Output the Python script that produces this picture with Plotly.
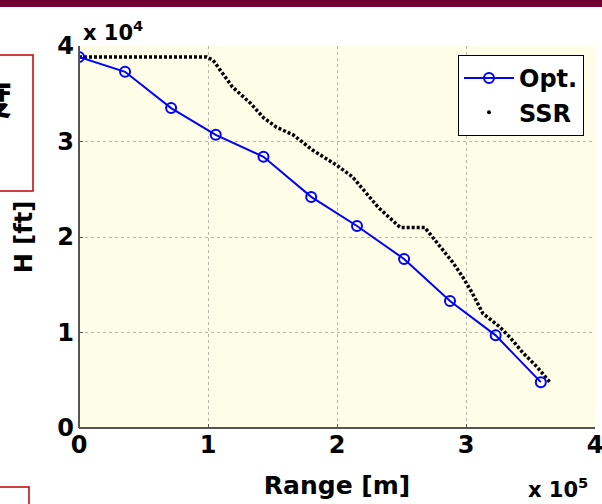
import plotly.graph_objects as go

# ---- data ----
opt_range = [0.0, 0.357e5, 0.714e5, 1.06e5, 1.43e5, 1.80e5, 2.155e5, 2.52e5, 2.876e5, 3.23e5, 3.58e5]
opt_h = [3.885e4, 3.73e4, 3.35e4, 3.07e4, 2.84e4, 2.42e4, 2.115e4, 1.77e4, 1.33e4, 0.97e4, 0.48e4]

ssr_range = [0.0, 0.5e5, 0.99e5, 1.04e5, 1.19e5, 1.33e5, 1.43e5, 1.53e5, 1.66e5, 1.81e5, 2.00e5,
             2.12e5, 2.23e5, 2.32e5, 2.49e5, 2.68e5, 2.74e5, 2.82e5, 2.90e5, 2.98e5, 3.05e5,
             3.13e5, 3.26e5, 3.34e5, 3.44e5, 3.55e5, 3.65e5]
ssr_h = [3.885e4, 3.885e4, 3.885e4, 3.85e4, 3.57e4, 3.40e4, 3.25e4, 3.15e4, 3.07e4, 2.91e4, 2.75e4,
         2.63e4, 2.46e4, 2.31e4, 2.10e4, 2.10e4, 2.00e4, 1.86e4, 1.73e4, 1.57e4, 1.41e4,
         1.20e4, 1.06e4, 0.95e4, 0.79e4, 0.64e4, 0.48e4]

x_tick_vals = [0, 1e5, 2e5, 3e5, 4e5]
x_tick_text = ["0", "1", "2", "3", "4"]
y_tick_vals = [0, 1e4, 2e4, 3e4, 4e4]
y_tick_text = ["0", "1", "2", "3", "4"]

FONT = "DejaVu Sans, Liberation Sans, sans-serif"
W, H = 602, 504
ML, MR, MT, MB = 79, 7, 46, 76

def px2paper(px, py):
    return (px - ML) / (W - ML - MR), (H - MB - py) / (H - MT - MB)

fig = go.Figure()

fig.add_trace(go.Scatter(
    x=ssr_range, y=ssr_h, mode="lines", showlegend=False,
    line=dict(color="black", width=3.5, dash="3px,2px"), hoverinfo="skip"))
fig.add_trace(go.Scatter(
    x=opt_range, y=opt_h, mode="lines+markers", name="<b>Opt.</b>",
    line=dict(color="#0000FF", width=2),
    marker=dict(symbol="circle-open", size=10, color="#0000FF", line=dict(width=2))))
fig.add_trace(go.Scatter(
    x=[None], y=[None], mode="markers", name="<b>SSR</b>",
    marker=dict(symbol="circle", size=4, color="black")))

axis_common = dict(
    showgrid=True, gridcolor="#b8b8a8", griddash="dot", gridwidth=1,
    zeroline=False, showline=False, ticks="inside", ticklen=4, tickcolor="#555",
    tickfont=dict(family=FONT, size=24, color="black"), mirror=False, automargin=False,
    ticklabeloverflow="allow")

fig.update_xaxes(range=[0, 4e5], tickvals=x_tick_vals, ticktext=["<b>%s</b>" % t for t in x_tick_text],
                 title=dict(text="<b>Range [m]</b>", font=dict(family=FONT, size=25, color="black"), standoff=18),
                 **axis_common)
fig.update_yaxes(range=[0, 4e4], tickvals=y_tick_vals, ticktext=["<b>%s</b>" % t for t in y_tick_text],
                 title=dict(text="<b>H [ft]</b>", font=dict(family=FONT, size=24, color="black"), standoff=17),
                 **axis_common)
try:
    fig.update_yaxes(ticklabelstandoff=4)
except Exception:
    pass

shapes = []
# axis frame lines (left & bottom)
shapes.append(dict(type="line", xref="paper", yref="paper", x0=0, y0=0, x1=1, y1=0,
                   line=dict(color="#555555", width=2)))
shapes.append(dict(type="line", xref="paper", yref="paper", x0=0, y0=0, x1=0, y1=1,
                   line=dict(color="#555555", width=2)))
# top dark band
a0, b0 = px2paper(-5, -5)
a1, b1 = px2paper(610, 7)
shapes.append(dict(type="rect", xref="paper", yref="paper", x0=a0, y0=b0, x1=a1, y1=b1,
                   fillcolor="#720030", line=dict(width=0), layer="above"))
# left red box
a0, b0 = px2paper(-3, 55)
a1, b1 = px2paper(33, 191)
shapes.append(dict(type="rect", xref="paper", yref="paper", x0=a0, y0=b0, x1=a1, y1=b1,
                   fillcolor="rgba(255,255,255,0)", line=dict(color="#c00000", width=1.5), layer="above"))
# bottom-left red box
a0, b0 = px2paper(-3, 487)
a1, b1 = px2paper(29, 520)
shapes.append(dict(type="rect", xref="paper", yref="paper", x0=a0, y0=b0, x1=a1, y1=b1,
                   fillcolor="white", line=dict(color="#c00000", width=1.5), layer="above"))

annotations = []
ax_, ay_ = px2paper(81, 31)
annotations.append(dict(xref="paper", yref="paper", x=ax_, y=ay_, xanchor="left", yanchor="middle",
                        text="<b>x 10<sup>4</sup></b>", showarrow=False,
                        font=dict(family=FONT, size=21, color="black")))
ax_, ay_ = px2paper(590, 488)
annotations.append(dict(xref="paper", yref="paper", x=ax_, y=ay_, xanchor="right", yanchor="middle",
                        text="<b>x 10<sup>5</sup></b>", showarrow=False,
                        font=dict(family=FONT, size=21, color="black")))
ax_, ay_ = px2paper(-8, 97)
annotations.append(dict(xref="paper", yref="paper", x=ax_, y=ay_, xanchor="center", yanchor="middle",
                        text="<b>度</b>", showarrow=False,
                        font=dict(family="Noto Sans CJK SC", size=40, color="black")))

lx, ly = px2paper(458, 55)
fig.update_layout(
    width=W, height=H,
    margin=dict(l=ML, r=MR, t=MT, b=MB),
    paper_bgcolor="white", plot_bgcolor="#fefee8",
    font=dict(family=FONT, color="black"),
    shapes=shapes, annotations=annotations,
    legend=dict(x=lx, y=ly, xanchor="left", yanchor="top",
                bgcolor="white", bordercolor="black", borderwidth=1,
                font=dict(family=FONT, size=24, color="black"),
                itemwidth=50, tracegroupgap=0),
)

fig.write_html("out.html", config={"displayModeBar": False},
               post_script="document.body.style.margin='0';document.body.style.overflow='hidden';")
